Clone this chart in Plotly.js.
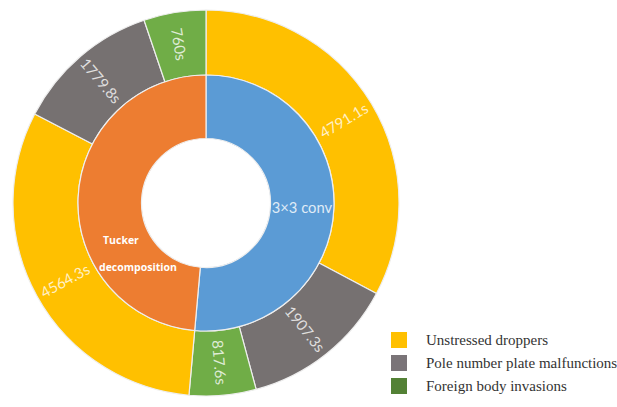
<!DOCTYPE html>
<html>
<head>
<meta charset="utf-8">
<script src="https://cdn.plot.ly/plotly-3.0.1.min.js"></script>
<style>html,body{margin:0;padding:0;background:#fff;}#chart{width:617px;height:407px;}</style>
</head>
<body>
<div id="chart"></div>
<script>
// Inner ring: methods
var methods = ["3×3 conv", "Tucker decomposition"];
// Outer ring: per method, per fault type (seconds)
var faultTypes = ["Unstressed droppers", "Pole number plate malfunctions", "Foreign body invasions"];
var convTimes = [4791.1, 1907.3, 817.6];
var tuckerTimes = [4564.3, 1779.8, 760];

var faultColors = ["#FFC000", "#767171", "#70AD47"];
var legendColors = ["#FFC000", "#7A7478", "#538135"];
var methodColors = ["#5B9BD5", "#ED7D31"];

var innerValues = [
  convTimes.reduce(function(a, b){return a + b;}, 0),
  tuckerTimes.reduce(function(a, b){return a + b;}, 0)
];

var outerValues = convTimes.concat(tuckerTimes);
var outerLabels = [];
var outerText = [];
var outerColors = [];
[convTimes, tuckerTimes].forEach(function(arr, mi){
  arr.forEach(function(v, fi){
    outerLabels.push(methods[mi] + " - " + faultTypes[fi]);
    outerText.push(v + "s");
    outerColors.push(faultColors[fi]);
  });
});

var W = 617, H = 407;
var cx = 206, cy = 203, R1 = 193, R2 = 128, R3 = 64.5;
function dom(r){
  return {x: [(cx - r) / W, (cx + r) / W], y: [(H - cy - r) / H, (H - cy + r) / H]};
}

var outer = {
  type: "pie",
  values: outerValues,
  labels: outerLabels,
  textinfo: "none",
  sort: false,
  direction: "clockwise",
  rotation: 0,
  hole: R2 / R1,
  domain: dom(R1),
  marker: {colors: outerColors, line: {color: "#eeeeee", width: 1.2}},
  showlegend: false,
  hoverinfo: "label+value"
};

var inner = {
  type: "pie",
  values: innerValues,
  labels: methods,
  text: [methods[0], ""],
  textinfo: "text",
  textposition: "inside",
  insidetextorientation: "horizontal",
  sort: false,
  direction: "clockwise",
  rotation: 0,
  hole: R3 / R2,
  domain: dom(R2),
  marker: {colors: methodColors, line: {color: "#eeeeee", width: 1.2}},
  textfont: {family: "Lato, sans-serif", size: 16.5, color: "rgba(255,255,255,0.82)"},
  showlegend: false,
  hoverinfo: "label+value"
};

var shapes = [];
var annotations = [
  {xref: "paper", yref: "paper", x: 101 / W, y: 1 - 240 / H, text: "<b>Tucker</b>", showarrow: false,
   font: {family: "Open Sans, sans-serif", size: 10.5, color: "#ffffff"}, xanchor: "left", yanchor: "middle"},
  {xref: "paper", yref: "paper", x: 97 / W, y: 1 - 267 / H, text: "<b>decomposition</b>", showarrow: false,
   font: {family: "Open Sans, sans-serif", size: 10.5, color: "#ffffff"}, xanchor: "left", yanchor: "middle"}
];

// Outer slice labels, placed radially at each slice's mid-angle
var total = outerValues.reduce(function(a, b){return a + b;}, 0);
var cum = 0;
var rText = (R1 + R2) / 2;
outerValues.forEach(function(v, i){
  var mid = (cum + v / 2) / total * 360;
  cum += v;
  var rad = mid * Math.PI / 180;
  var px = cx + rText * Math.sin(rad);
  var py = cy - rText * Math.cos(rad);
  var ang = mid < 180 ? mid - 90 : mid - 270;
  annotations.push({xref: "paper", yref: "paper", x: px / W, y: 1 - py / H, text: outerText[i],
    showarrow: false, textangle: ang, xanchor: "center", yanchor: "middle",
    font: {family: "Lato, sans-serif", size: 15, color: "rgba(255,255,255,0.78)"}});
});

faultTypes.forEach(function(name, i){
  var yc = 340 + i * 23;
  shapes.push({type: "rect", xref: "paper", yref: "paper",
    x0: 391 / W, x1: 407 / W, y0: 1 - (yc + 8) / H, y1: 1 - (yc - 8) / H,
    fillcolor: legendColors[i], line: {width: 0}});
  annotations.push({xref: "paper", yref: "paper", x: 424 / W, y: 1 - yc / H, text: name, showarrow: false,
    xanchor: "left", yanchor: "middle", font: {family: "Liberation Serif, serif", size: 15, color: "#333333"}});
});

var layout = {
  width: W, height: H,
  margin: {l: 0, r: 0, t: 0, b: 0},
  paper_bgcolor: "#ffffff",
  showlegend: false,
  shapes: shapes,
  annotations: annotations
};

Plotly.newPlot("chart", [outer, inner], layout, {displayModeBar: false, staticPlot: true});
</script>
</body>
</html>
